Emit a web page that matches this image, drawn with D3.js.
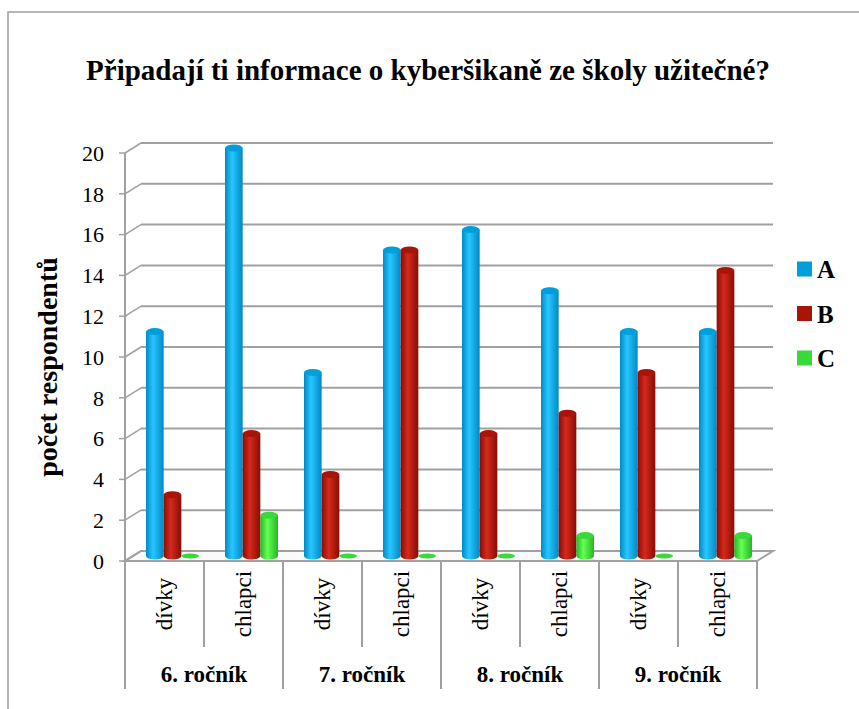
<!DOCTYPE html>
<html><head><meta charset="utf-8">
<script src="https://cdn.jsdelivr.net/npm/d3@7"></script>
<style>body{margin:0;background:#fff}svg{display:block}svg text{font-family:"Liberation Serif","Times New Roman",serif}</style>
</head><body>
<svg id="c" width="859" height="709"></svg>
<script>
const title = "Připadají ti informace o kyberšikaně ze školy užitečné?";
const yTitle = "počet respondentů";
const groups = ["6. ročník","7. ročník","8. ročník","9. ročník"];
const subs = ["dívky","chlapci"];
const series = ["A","B","C"];
const valuesA = [11,20,9,15,16,13,11,11];
const valuesB = [3,6,4,15,6,7,9,14];
const valuesC = [0,2,0,0,0,1,0,1];
const yTicks = [0,2,4,6,8,10,12,14,16,18,20];
const colors = {A:["#0089c4","#28c6ff","#009fdc"], B:["#8a0c04","#d42a1c","#a81408"], C:["#22b822","#66ff55","#3ad83a"]};

const svg = d3.select("#c");

// frame
svg.append("rect").attr("x",8).attr("y",12).attr("width",900).attr("height",800)
  .attr("fill","#fff").attr("stroke","#a0a0a0").attr("stroke-width",1.5);

const cats = [];
groups.forEach(g=>subs.forEach(s=>cats.push(g+"|"+s)));
const data = cats.map((c,i)=>({cat:c, A:valuesA[i], B:valuesB[i], C:valuesC[i]}));

const x0 = 125, x1 = 757, dx = 16, dy = -10;
const x = d3.scaleBand().domain(cats).range([x0,x1]);
const xs = d3.scaleBand().domain(series).range([0,53]);
const yFront = d3.scaleLinear().domain([0,20]).range([561,153]);
const yMid = d3.scaleLinear().domain([0,20]).range([561+dy/2,153+dy/2]);

// floor
const floorY = yFront(0);
svg.append("path").attr("d",`M${x0},${floorY}L${x1},${floorY}L${x1+dx},${floorY+dy}L${x0+dx},${floorY+dy}Z`)
  .attr("fill","#fafafa").attr("stroke","#a0a0a0").attr("stroke-width",2);

// gridlines
yTicks.forEach(t=>{
  const yf = yFront(t);
  if(t>0) svg.append("line").attr("x1",x0+dx).attr("x2",x1+dx).attr("y1",yf+dy).attr("y2",yf+dy)
    .attr("stroke","#a0a0a0").attr("stroke-width",2);
  svg.append("line").attr("x1",x0).attr("x2",x0+dx).attr("y1",yf).attr("y2",yf+dy)
    .attr("stroke","#a0a0a0").attr("stroke-width",1.5);
  svg.append("line").attr("x1",x0-6).attr("x2",x0).attr("y1",yf).attr("y2",yf)
    .attr("stroke","#a0a0a0").attr("stroke-width",1.5);
  svg.append("text").attr("x",104).attr("y",yf).attr("dy","0.35em").attr("text-anchor","end")
    .attr("font-size",22).attr("fill","#000").text(t);
});
// y axis line
svg.append("line").attr("x1",x0).attr("x2",x0).attr("y1",yFront(20)).attr("y2",floorY)
  .attr("stroke","#a0a0a0").attr("stroke-width",2);

// gradients
const defs = svg.append("defs");
series.forEach(s=>{
  const g = defs.append("linearGradient").attr("id","g"+s).attr("x1","0").attr("x2","1").attr("y1","0").attr("y2","0");
  g.append("stop").attr("offset","0%").attr("stop-color",colors[s][0]);
  g.append("stop").attr("offset","40%").attr("stop-color",colors[s][1]);
  g.append("stop").attr("offset","100%").attr("stop-color",colors[s][0]);
});

// bars (cylinders)
const ry = 3.5;
data.forEach(d=>{
  series.forEach(s=>{
    const bx = x(d.cat) + x.bandwidth()/2 + dx/2 - 26.5 + xs(s);
    const w = xs.bandwidth();
    const yb = yMid(0), yt = yMid(d[s]);
    const cx = bx + w/2, rx = w/2;
    const gg = svg.append("g");
    if(d[s] > 0){
      gg.append("path").attr("d",`M${bx},${yt}L${bx},${yb}A${rx},${ry} 0 0 0 ${bx+w},${yb}L${bx+w},${yt}Z`)
        .attr("fill",`url(#g${s})`);
      gg.append("ellipse").attr("cx",cx).attr("cy",yt).attr("rx",rx).attr("ry",ry)
        .attr("fill",colors[s][2]);
    } else {
      gg.append("ellipse").attr("cx",cx).attr("cy",yb).attr("rx",rx).attr("ry",2.5)
        .attr("fill",colors[s][2]);
    }
  });
});

// category axis dividers
const gridC = "#a0a0a0";
cats.forEach((c,i)=>{
  const xl = x(c);
  const isGroupEdge = i%2===0;
  svg.append("line").attr("x1",xl).attr("x2",xl).attr("y1",floorY).attr("y2",isGroupEdge?689:647)
    .attr("stroke",gridC).attr("stroke-width",2);
});
svg.append("line").attr("x1",x1).attr("x2",x1).attr("y1",floorY).attr("y2",689)
  .attr("stroke",gridC).attr("stroke-width",2);

// sub labels
cats.forEach((c,i)=>{
  const cx = x(c)+x.bandwidth()/2;
  svg.append("text").attr("transform",`translate(${cx+7},604) rotate(-90)`)
    .attr("text-anchor","middle").attr("font-size",23).text(subs[i%2]);
});
// group labels
groups.forEach((g,i)=>{
  const cx = x(cats[i*2]) + x.bandwidth();
  svg.append("text").attr("x",cx).attr("y",682).attr("text-anchor","middle")
    .attr("font-size",23).attr("font-weight","bold").text(g);
});

// title
svg.append("text").attr("x",428).attr("y",80).attr("text-anchor","middle")
  .attr("font-size",29).attr("font-weight","bold").text(title);
// y title
svg.append("text").attr("transform","translate(57,367) rotate(-90)").attr("text-anchor","middle")
  .attr("font-size",28).attr("font-weight","bold").text(yTitle);

// legend
series.forEach((s,i)=>{
  const cy = 269 + i*44.5;
  svg.append("rect").attr("x",797).attr("y",cy-7.5).attr("width",15).attr("height",15).attr("fill",colors[s][2]);
  svg.append("text").attr("x",817).attr("y",cy).attr("dy","0.36em")
    .attr("font-size",25).attr("font-weight","bold").text(s);
});
</script>
</body></html>
